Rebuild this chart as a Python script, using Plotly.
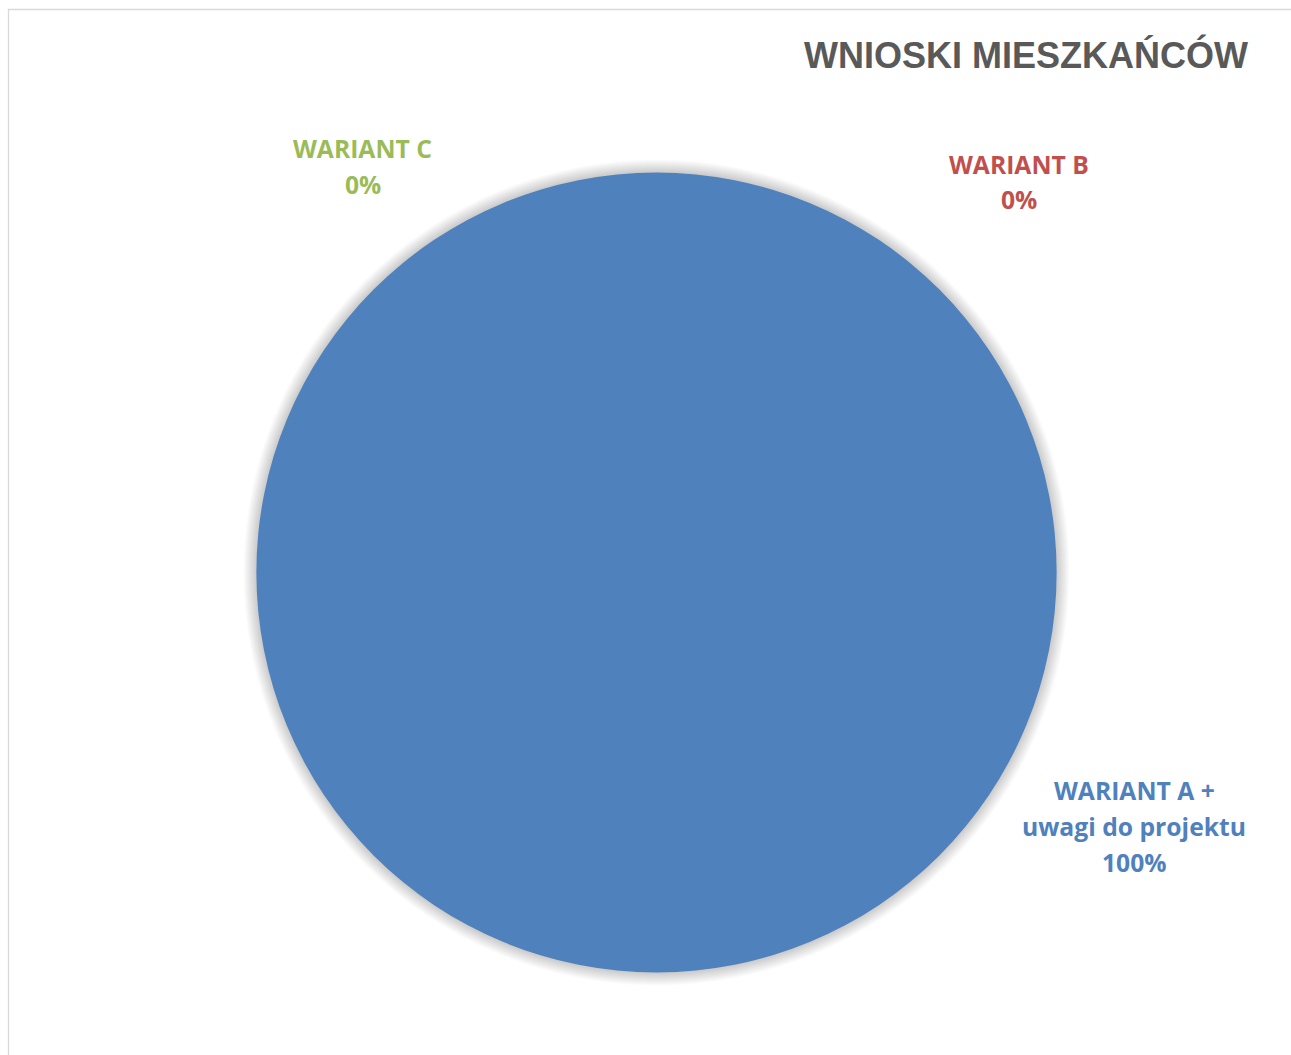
import plotly.graph_objects as go

# ---- data ----
categories = ["WARIANT A +<br>uwagi do projektu", "WARIANT B", "WARIANT C"]
values = [100, 0, 0]
colors = ["#4F81BD", "#C0504D", "#9BBB59"]
title_text = "WNIOSKI MIESZKAŃCÓW"

W, H = 1291, 1055
# pie pixel box
cx, cy, r = 656.5, 572.5, 400.0

def px_x(x):
    return x / W

def px_y(y):
    return 1 - y / H

total = sum(values)
pcts = [f"{round(v / total * 100)}%" for v in values]

fig = go.Figure()
fig.add_trace(go.Pie(
    labels=[c.replace("<br>", " ") for c in categories],
    values=values,
    marker=dict(colors=colors, line=dict(width=0)),
    textinfo="none",
    sort=False,
    direction="clockwise",
    rotation=0,
    showlegend=False,
    hoverinfo="label+percent",
    domain=dict(x=[px_x(cx - r), px_x(cx + r)], y=[px_y(cy + r), px_y(cy - r)]),
))

shapes = []
# soft shadow around the pie
for k in range(13, 0, -1):
    rr = r + k
    shapes.append(dict(
        type="circle", xref="paper", yref="paper", layer="below",
        x0=px_x(cx - rr), x1=px_x(cx + rr), y0=px_y(cy + rr), y1=px_y(cy - rr),
        fillcolor="rgba(0,0,0,0.017)", line=dict(width=0),
    ))
# chart border
shapes.append(dict(
    type="rect", xref="paper", yref="paper", layer="above",
    x0=px_x(8.5), x1=px_x(W + 5), y0=px_y(H + 5), y1=px_y(9.5),
    fillcolor="rgba(0,0,0,0)", line=dict(color="#D9D9D9", width=1.3),
))

label_font = "'Open Sans', Lato, sans-serif"
# label anchor positions (pixel centres of the first line)
label_pos = {
    "WARIANT A +<br>uwagi do projektu": (1134, 790),
    "WARIANT B": (1019, 164),
    "WARIANT C": (363, 148),
}
pitch = 36
annotations = []
for cat, pct, col in zip(categories, pcts, colors):
    lines = cat.split("<br>") + [pct]
    x0, y0 = label_pos[cat]
    for i, line in enumerate(lines):
        annotations.append(dict(
            x=px_x(x0), y=px_y(y0 + i * pitch), xref="paper", yref="paper",
            text=f"<b>{line}</b>", showarrow=False, xanchor="center", yanchor="middle",
            font=dict(family=label_font, size=24.7, color=col),
        ))

annotations.append(dict(
    x=px_x(1250), y=px_y(55), xref="paper", yref="paper",
    text=f"<b>{title_text}</b>", showarrow=False, xanchor="right", yanchor="middle",
    font=dict(family="'Liberation Sans', Arial, sans-serif", size=36, color="#595959"),
))

fig.update_layout(
    width=W, height=H,
    margin=dict(l=0, r=0, t=0, b=0),
    paper_bgcolor="white", plot_bgcolor="white",
    shapes=shapes, annotations=annotations,
)

fig.write_html("out.html")
